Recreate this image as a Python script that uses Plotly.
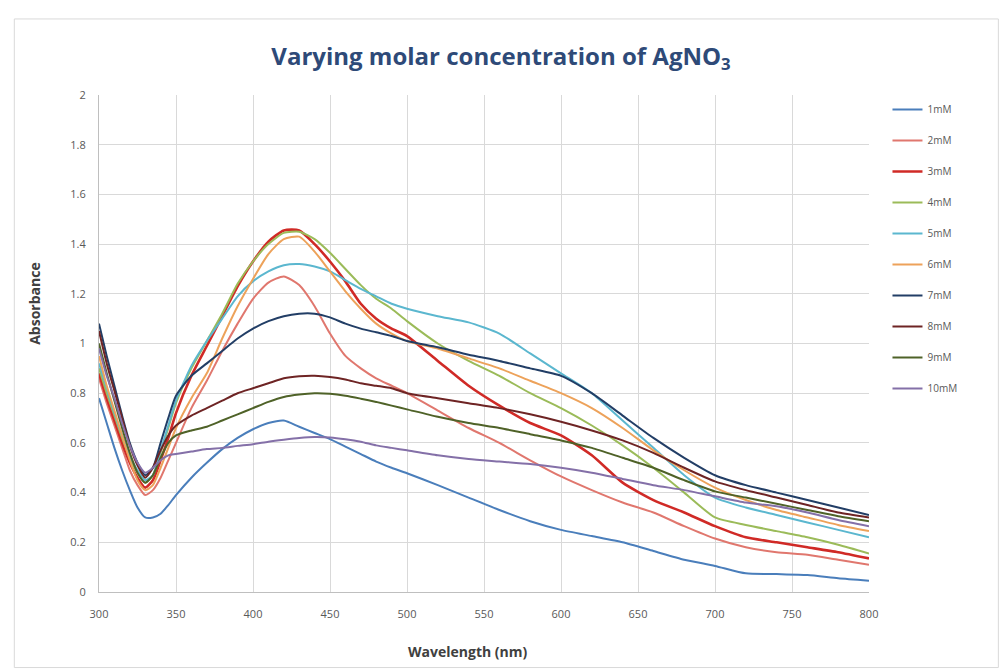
import plotly.graph_objects as go

# Wavelength grid (nm)
wavelength = [300, 305, 310, 315, 320, 325, 330, 335, 340, 345, 350, 360, 370, 380, 390,
              400, 410, 420, 430, 440, 450, 460, 470, 480, 490, 500, 520, 540, 560, 580,
              600, 620, 640, 660, 680, 700, 720, 740, 760, 780, 800]

# Absorbance for each AgNO3 concentration
abs_1mM = [0.78, 0.68, 0.58, 0.49, 0.41, 0.34, 0.30, 0.30, 0.315, 0.35, 0.39, 0.46, 0.52, 0.575, 0.62,
           0.655, 0.68, 0.69, 0.665, 0.64, 0.615, 0.585, 0.555, 0.525, 0.50, 0.478, 0.43, 0.38, 0.33, 0.285,
           0.25, 0.225, 0.20, 0.165, 0.13, 0.105, 0.075, 0.072, 0.068, 0.055, 0.045]
abs_2mM = [0.86, 0.76, 0.67, 0.58, 0.49, 0.43, 0.39, 0.41, 0.46, 0.53, 0.60, 0.74, 0.85, 0.97, 1.08,
           1.18, 1.245, 1.27, 1.235, 1.15, 1.04, 0.95, 0.90, 0.86, 0.83, 0.80, 0.73, 0.66, 0.60, 0.53,
           0.465, 0.41, 0.36, 0.32, 0.265, 0.215, 0.18, 0.16, 0.15, 0.13, 0.11]
abs_3mM = [0.88, 0.78, 0.69, 0.60, 0.52, 0.46, 0.42, 0.45, 0.53, 0.62, 0.72, 0.87, 0.99, 1.11, 1.23,
           1.33, 1.41, 1.455, 1.455, 1.40, 1.33, 1.25, 1.16, 1.10, 1.06, 1.03, 0.93, 0.83, 0.75, 0.68,
           0.63, 0.55, 0.44, 0.37, 0.32, 0.265, 0.22, 0.20, 0.18, 0.16, 0.135]
abs_4mM = [0.90, 0.80, 0.71, 0.62, 0.54, 0.48, 0.44, 0.47, 0.56, 0.66, 0.76, 0.90, 1.01, 1.12, 1.24,
           1.33, 1.40, 1.445, 1.45, 1.42, 1.365, 1.30, 1.235, 1.18, 1.14, 1.09, 1.00, 0.93, 0.87, 0.80,
           0.74, 0.67, 0.59, 0.50, 0.40, 0.30, 0.27, 0.245, 0.22, 0.19, 0.155]
abs_5mM = [0.92, 0.82, 0.72, 0.63, 0.55, 0.49, 0.45, 0.47, 0.57, 0.67, 0.77, 0.91, 1.01, 1.10, 1.19,
           1.25, 1.29, 1.315, 1.32, 1.31, 1.29, 1.255, 1.22, 1.19, 1.16, 1.14, 1.11, 1.085, 1.04, 0.96,
           0.88, 0.80, 0.69, 0.58, 0.47, 0.38, 0.34, 0.31, 0.28, 0.25, 0.22]
abs_6mM = [0.95, 0.83, 0.73, 0.63, 0.53, 0.45, 0.41, 0.43, 0.50, 0.58, 0.66, 0.78, 0.88, 1.02, 1.15,
           1.26, 1.36, 1.42, 1.43, 1.37, 1.29, 1.21, 1.14, 1.08, 1.04, 1.01, 0.98, 0.94, 0.90, 0.85,
           0.80, 0.74, 0.66, 0.57, 0.49, 0.42, 0.37, 0.33, 0.30, 0.27, 0.245]
abs_7mM = [1.08, 0.95, 0.83, 0.71, 0.60, 0.52, 0.47, 0.50, 0.60, 0.70, 0.79, 0.87, 0.92, 0.97, 1.02,
           1.06, 1.09, 1.11, 1.12, 1.12, 1.105, 1.08, 1.06, 1.045, 1.03, 1.01, 0.985, 0.955, 0.93, 0.90,
           0.87, 0.80, 0.71, 0.62, 0.54, 0.47, 0.43, 0.40, 0.37, 0.34, 0.31]
abs_8mM = [1.05, 0.92, 0.81, 0.70, 0.59, 0.51, 0.46, 0.50, 0.57, 0.63, 0.67, 0.71, 0.74, 0.77, 0.80,
           0.82, 0.84, 0.86, 0.868, 0.87, 0.865, 0.855, 0.84, 0.83, 0.82, 0.80, 0.78, 0.76, 0.74, 0.715,
           0.685, 0.65, 0.61, 0.56, 0.50, 0.445, 0.41, 0.38, 0.35, 0.32, 0.30]
abs_9mM = [1.00, 0.88, 0.77, 0.66, 0.56, 0.48, 0.44, 0.47, 0.54, 0.60, 0.63, 0.65, 0.665, 0.69, 0.715,
           0.74, 0.765, 0.785, 0.795, 0.80, 0.798, 0.79, 0.778, 0.765, 0.75, 0.735, 0.705, 0.68, 0.66, 0.635,
           0.61, 0.58, 0.54, 0.50, 0.45, 0.405, 0.38, 0.355, 0.33, 0.305, 0.285]
abs_10mM = [0.98, 0.87, 0.78, 0.68, 0.59, 0.52, 0.48, 0.50, 0.53, 0.55, 0.555, 0.565, 0.575, 0.58, 0.588,
            0.595, 0.605, 0.613, 0.62, 0.624, 0.622, 0.615, 0.605, 0.59, 0.58, 0.57, 0.55, 0.535, 0.525, 0.515,
            0.50, 0.48, 0.455, 0.43, 0.41, 0.385, 0.36, 0.345, 0.32, 0.29, 0.265]

series_names = ["1mM", "2mM", "3mM", "4mM", "5mM", "6mM", "7mM", "8mM", "9mM", "10mM"]
series_values = [abs_1mM, abs_2mM, abs_3mM, abs_4mM, abs_5mM,
                 abs_6mM, abs_7mM, abs_8mM, abs_9mM, abs_10mM]
series_colors = ["#4A7EBB", "#E0776E", "#D02A26", "#9BBB59", "#5BB7CF",
                 "#EDA25A", "#223E66", "#6E2424", "#4F6228", "#8470A8"]
series_widths = [2, 2, 2.6, 2, 2, 2, 2, 2, 2, 2]

fig = go.Figure()
for name, vals, col, w in zip(series_names, series_values, series_colors, series_widths):
    fig.add_trace(go.Scatter(
        x=wavelength, y=vals, name=name, mode="lines", legendgroup=name,
        line=dict(color=col, width=w, shape="spline", smoothing=0.6),
    ))

grid = "#D9D9D9"
font_family = "Open Sans, Liberation Sans, sans-serif"
tick_font = dict(family=font_family, size=11, color="#595959")
label_font = dict(family=font_family, size=14, color="#404040")

fig.update_layout(
    width=1002, height=671,
    margin=dict(l=99, r=133, t=95, b=79),
    paper_bgcolor="white", plot_bgcolor="white",
    title=dict(
        text="<b>Varying molar concentration of AgNO<sub>3</sub></b>",
        x=0.5, xanchor="center", y=0.915, yanchor="middle",
        font=dict(family=font_family, size=24, color="#2E4A78"),
    ),
    xaxis=dict(
        range=[300, 800], dtick=50, tick0=300,
        showgrid=True, gridcolor=grid, gridwidth=1,
        showline=True, linecolor="#BFBFBF", linewidth=1,
        zeroline=False, ticks="", tickfont=tick_font, ticklabelstandoff=12,
    ),
    yaxis=dict(
        range=[0, 2], dtick=0.2, tick0=0,
        showgrid=True, gridcolor=grid, gridwidth=1,
        showline=True, linecolor="#BFBFBF", linewidth=1,
        zeroline=False, ticks="", tickfont=tick_font, ticklabelstandoff=10,
    ),
    legend=dict(
        x=1.024, y=1.0, xanchor="left", yanchor="top",
        font=dict(family=font_family, size=10, color="#595959"),
        tracegroupgap=12, bgcolor="rgba(0,0,0,0)",
    ),
    annotations=[
        dict(text="<b>Wavelength (nm)</b>", xref="paper", yref="paper",
             x=0.478, y=-0.119, xanchor="center", yanchor="middle",
             showarrow=False, font=label_font),
        dict(text="<b>Absorbance</b>", xref="paper", yref="paper",
             x=-0.083, y=0.58, xanchor="center", yanchor="middle",
             textangle=-90, showarrow=False, font=label_font),
    ],
    shapes=[dict(type="rect", xref="paper", yref="paper",
                 x0=-0.11, x1=1.168, y0=-0.152, y1=1.153,
                 line=dict(color="#D9D9D9", width=1))],
)

fig.write_html("out.html")
